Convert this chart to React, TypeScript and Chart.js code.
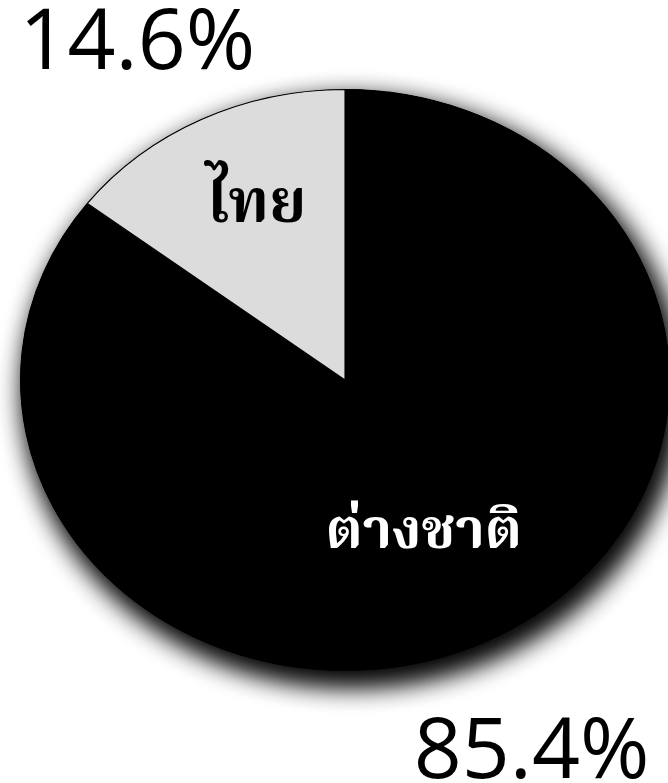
import React, { useEffect, useRef } from "react";
import { Chart, registerables } from "chart.js";

Chart.register(...registerables);

const categories = ["ต่างชาติ", "ไทย"];
const shares = [85.4, 14.6];
const sliceColors = ["#000000", "#dcdcdc"];
const labelColors = ["#ffffff", "#000000"];
const percentLabels = ["85.4%", "14.6%"];

const X_STRETCH = 325 / 291;

const ellipsePlugin = {
  id: "ellipse",
  beforeDatasetsDraw(chart: any) {
    const arc = chart.getDatasetMeta(0).data[0];
    if (!arc) return;
    const { x, y, outerRadius } = arc;
    const ctx = chart.ctx;
    for (let i = 0; i < 2; i++) {
      ctx.save();
      ctx.shadowColor = "rgba(0,0,0,0.9)";
      ctx.shadowBlur = 28;
      ctx.shadowOffsetX = 7;
      ctx.shadowOffsetY = 12;
      ctx.beginPath();
      ctx.ellipse(x, y, outerRadius * X_STRETCH, outerRadius, 0, 0, Math.PI * 2);
      ctx.fillStyle = "#000";
      ctx.fill();
      ctx.restore();
    }
    ctx.save();
    ctx.translate(x, y);
    ctx.scale(X_STRETCH, 1);
    ctx.translate(-x, -y);
  },
  afterDatasetsDraw(chart: any) {
    chart.ctx.restore();
  },
  afterDraw(chart: any) {
    const arc = chart.getDatasetMeta(0).data[0];
    if (!arc) return;
    const { x, y, outerRadius: r } = arc;
    const rx = r * X_STRETCH;
    const ctx = chart.ctx;
    ctx.save();
    ctx.textAlign = "center";
    ctx.textBaseline = "alphabetic";
    // category labels
    ctx.font = "bold 56px 'Noto Serif Thai', Norasi, Garuda, Loma, Tahoma, 'Noto Sans Thai', sans-serif";
    ctx.fillStyle = labelColors[0];
    ctx.fillText(categories[0], x + 0.243 * rx, y + 0.58 * r);
    ctx.font = "bold 60px 'Noto Serif Thai', Norasi, Garuda, Loma, Tahoma, 'Noto Sans Thai', sans-serif";
    ctx.fillStyle = labelColors[1];
    ctx.fillText(categories[1], x - 0.274 * rx, y - 0.545 * r);
    // percentages
    ctx.font = "400 84px 'Open Sans', sans-serif";
    ctx.fillStyle = "#000";
    ctx.fillText(percentLabels[1], x - 0.64 * rx, y - 1.07 * r);
    ctx.fillText(percentLabels[0], x + 0.575 * rx, y + 1.37 * r);
    ctx.restore();
  },
};

export default function App() {
  const ref = useRef<HTMLCanvasElement>(null);
  useEffect(() => {
    document.body.style.margin = "0";
    const chart = new Chart(ref.current!, {
      type: "pie",
      data: {
        labels: categories,
        datasets: [
          {
            data: shares,
            backgroundColor: sliceColors,
            borderColor: "#000",
            borderWidth: 1,
          },
        ],
      },
      options: {
        animation: false,
        responsive: false,
        devicePixelRatio: 1,
        layout: { padding: { left: 54, right: 32, top: 89, bottom: 112 } },
        plugins: { legend: { display: false }, tooltip: { enabled: false } },
      },
      plugins: [ellipsePlugin],
    });
    return () => chart.destroy();
  }, []);
  return (
    <div style={{ width: 668, height: 783, background: "#fff" }}>
      <canvas ref={ref} width={668} height={783} />
    </div>
  );
}
